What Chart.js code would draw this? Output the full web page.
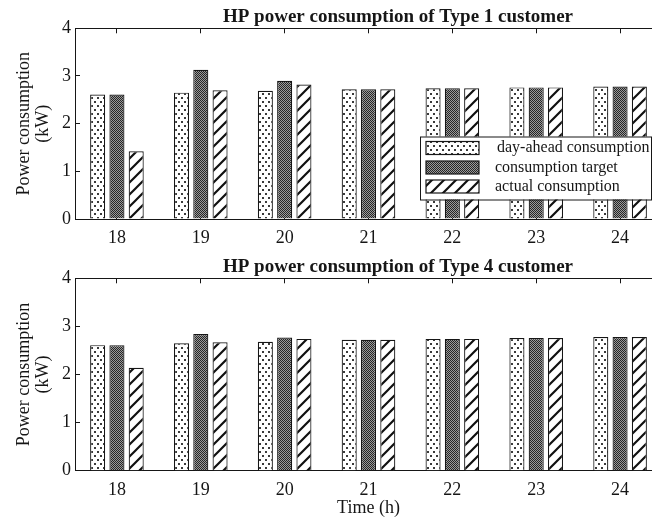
<!DOCTYPE html>
<html>
<head>
<meta charset="utf-8">
<script src="https://cdn.jsdelivr.net/npm/chart.js@4.4.1/dist/chart.umd.min.js"></script>
<style>
  html, body { margin: 0; padding: 0; background: #fff; width: 652px; height: 522px; overflow: hidden; }
  #wrap { position: relative; width: 652px; height: 522px; overflow: hidden; }
  canvas { position: absolute; left: 0; }
  #c1 { top: 0; }
  #c2 { top: 250px; }
</style>
</head>
<body>
<div id="wrap">
  <canvas id="c1" width="796" height="250"></canvas>
  <canvas id="c2" width="796" height="272"></canvas>
</div>
<script>
// Hours of the evening horizon
const hours = ['18', '19', '20', '21', '22', '23', '24'];
const seriesNames = ['day-ahead consumption', 'consumption target', 'actual consumption'];
const yTicks = [0, 1, 2, 3, 4];

// Type 1 customer (kW)
const type1DayAhead = [2.61, 2.65, 2.69, 2.72, 2.74, 2.76, 2.78];
const type1Target   = [2.61, 3.13, 2.90, 2.72, 2.74, 2.76, 2.78];
const type1Actual   = [1.42, 2.70, 2.82, 2.72, 2.74, 2.76, 2.78];

// Type 4 customer (kW)
const type4DayAhead = [2.61, 2.65, 2.68, 2.72, 2.74, 2.76, 2.78];
const type4Target   = [2.61, 2.84, 2.77, 2.72, 2.74, 2.76, 2.78];
const type4Actual   = [2.14, 2.67, 2.74, 2.72, 2.74, 2.76, 2.78];

const FONT = 'Liberation Serif, Times New Roman, serif';
const INK = '#161616';

// Fill patterns for the three series
function makePattern(kind) {
  const c = document.createElement('canvas');
  const g = c.getContext('2d');
  if (kind === 'dots') {
    c.width = 6; c.height = 8;
    g.fillStyle = '#fff'; g.fillRect(0, 0, 6, 8);
    g.fillStyle = '#3a3a3a';
    g.fillRect(1, 1, 2, 2);
    g.fillRect(4, 5, 2, 2);
  } else if (kind === 'checker') {
    c.width = 2; c.height = 2;
    g.fillStyle = '#9a9a9a'; g.fillRect(0, 0, 2, 2);
    g.fillStyle = '#262626';
    g.fillRect(0, 0, 1, 1);
    g.fillRect(1, 1, 1, 1);
  } else {
    c.width = 12; c.height = 12;
    g.fillStyle = '#fff'; g.fillRect(0, 0, 12, 12);
    g.strokeStyle = '#111';
    g.lineWidth = 2.2;
    g.beginPath();
    g.moveTo(-2, 14); g.lineTo(14, -2);
    g.moveTo(-2, 2); g.lineTo(2, -2);
    g.moveTo(10, 14); g.lineTo(14, 10);
    g.stroke();
  }
  return g.createPattern(c, 'repeat');
}

const fills = [makePattern('dots'), makePattern('checker'), makePattern('hatch')];

// Framed legend drawn inside the plot area
const boxLegend = {
  id: 'boxLegend',
  afterDraw(chart, args, opts) {
    if (!opts.display) return;
    const ctx = chart.ctx;
    const { x, y, w, h, swatchX, swatchW, swatchH, textX, rows, fontSize } = opts;
    ctx.save();
    ctx.fillStyle = '#fff';
    ctx.fillRect(x, y, w, h);
    ctx.strokeStyle = INK;
    ctx.lineWidth = 1;
    ctx.strokeRect(x + 0.5, y + 0.5, w, h);
    ctx.font = fontSize + 'px ' + FONT;
    ctx.textBaseline = 'middle';
    ctx.textAlign = 'left';
    chart.data.datasets.forEach((ds, i) => {
      const cy = rows[i];
      ctx.fillStyle = ds.backgroundColor;
      ctx.fillRect(swatchX, cy - swatchH / 2, swatchW, swatchH);
      ctx.strokeStyle = INK;
      ctx.lineWidth = 1.2;
      ctx.strokeRect(swatchX, cy - swatchH / 2, swatchW, swatchH);
      ctx.fillStyle = INK;
      ctx.fillText(ds.label, textX[i], cy);
    });
    ctx.restore();
  }
};

function buildChart(id, title, values, opts) {
  const datasets = values.map((v, i) => ({
    label: seriesNames[i],
    data: v,
    backgroundColor: fills[i],
    borderColor: INK,
    borderWidth: 1.2,
    categoryPercentage: 0.69,
    barPercentage: 0.78
  }));
  return new Chart(document.getElementById(id), {
    type: 'bar',
    data: { labels: hours, datasets },
    plugins: [boxLegend],
    options: {
      responsive: false,
      animation: false,
      devicePixelRatio: 1,
      layout: { padding: 0 },
      plugins: {
        legend: { display: false },
        tooltip: { enabled: false },
        title: {
          display: true,
          text: title,
          color: INK,
          font: { family: FONT, size: 19, weight: 'bold', lineHeight: 1.2 },
          padding: { top: 5.5, bottom: 0 }
        },
        boxLegend: opts.legend
      },
      scales: {
        x: {
          position: 'bottom',
          offset: true,
          grid: { offset: false, drawOnChartArea: false, drawTicks: true, tickLength: -5, color: INK },
          border: { display: true, color: INK, width: 1 },
          ticks: { color: INK, font: { family: FONT, size: 18, lineHeight: 1.2 }, padding: 13.7, maxRotation: 0 },
          title: opts.xTitle,
          afterFit: s => { s.height = opts.xHeight; }
        },
        x2: {
          type: 'category',
          labels: hours,
          position: 'top',
          offset: true,
          grid: { offset: false, drawOnChartArea: false, drawTicks: true, tickLength: -5, color: INK },
          border: { display: true, color: INK, width: 1 },
          ticks: { display: false },
          afterFit: s => { s.height = 0; }
        },
        y: {
          position: 'left',
          min: 0,
          max: 4,
          afterBuildTicks: s => { s.ticks = yTicks.map(v => ({ value: v })); },
          grid: { drawOnChartArea: false, drawTicks: true, tickLength: -5, color: INK },
          border: { display: true, color: INK, width: 1 },
          ticks: { color: INK, font: { family: FONT, size: 18, lineHeight: 1.2 }, padding: 9 },
          title: {
            display: true,
            text: ['Power consumption', '(kW)'],
            color: INK,
            font: { family: FONT, size: 18, lineHeight: 1.1 },
            padding: { top: 14, bottom: 0 }
          },
          afterFit: s => { s.width = 75; }
        },
        y2: {
          type: 'linear',
          position: 'right',
          grid: { display: false },
          border: { display: false },
          ticks: { display: false },
          afterFit: s => { s.width = 134; }
        }
      }
    }
  });
}

buildChart('c1', 'HP power consumption of Type 1 customer',
  [type1DayAhead, type1Target, type1Actual],
  {
    xHeight: 31,
    xTitle: { display: false },
    legend: {
      display: true,
      x: 420, y: 136.5, w: 231, h: 63,
      swatchX: 426, swatchW: 53, swatchH: 13,
      rows: [148, 167.5, 186.5],
      textX: [497, 495, 495],
      fontSize: 16
    }
  });

buildChart('c2', 'HP power consumption of Type 4 customer',
  [type4DayAhead, type4Target, type4Actual],
  {
    xHeight: 51.3,
    xTitle: {
      display: true,
      text: 'Time (h)',
      color: INK,
      font: { family: FONT, size: 18, lineHeight: 1.1 },
      padding: { top: 0, bottom: 4.1 }
    },
    legend: { display: false }
  });
</script>
</body>
</html>
